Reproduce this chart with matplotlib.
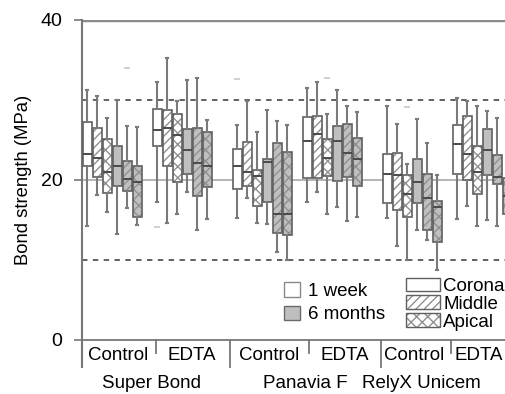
import matplotlib
matplotlib.use("Agg")
import matplotlib.pyplot as plt
from matplotlib.patches import Patch
from matplotlib.colors import to_rgba

plt.rcParams['font.family'] = ['Liberation Sans', 'DejaVu Sans']
plt.rcParams['hatch.linewidth'] = 1.0

materials = ["Super Bond", "Panavia F", "RelyX Unicem"]
treatments = ["Control", "EDTA"]
regions = ["Coronal", "Middle", "Apical"]
times = ["1 week", "6 months"]

# per group (material x treatment), 6 boxes: 1wk C/M/A, 6mo C/M/A
whisker_hi = [
    [31.2, 30.5, 27.7, 30.0, 26.75, 26.6],
    [32.2, 35.2, 29.9, 32.5, 32.8, 27.5],
    [26.9, 29.9, 26.0, 28.7, 27.4, 26.9],
    [31.5, 32.2, 28.2, 31.3, 29.2, 28.5],
    [29.3, 27.0, 22.0, 27.6, 24.6, 20.6],
    [30.3, 29.9, 29.3, 28.6, 27.8, 24.0],
]
q3 = [
    [27.3, 26.5, 25.1, 24.25, 22.4, 21.8],
    [28.9, 28.7, 28.25, 26.4, 26.5, 26.0],
    [23.9, 24.7, 21.3, 22.6, 24.6, 23.5],
    [27.9, 28.0, 25.1, 26.75, 27.0, 25.3],
    [23.2, 23.4, 20.6, 22.6, 20.7, 17.4],
    [26.9, 28.0, 24.2, 26.4, 23.1, 20.3],
]
median = [
    [23.3, 22.8, 21.0, 21.8, 20.1, 19.7],
    [26.25, 26.5, 25.6, 23.7, 22.1, 21.8],
    [21.75, 21.0, 20.5, 22.2, 15.75, 15.75],
    [24.9, 25.75, 22.8, 24.9, 23.4, 22.6],
    [20.7, 20.6, 18.2, 19.8, 17.8, 16.6],
    [24.5, 23.3, 21.0, 23.75, 20.4, 18.0],
]
q1 = [
    [21.8, 20.4, 18.4, 19.3, 18.6, 15.4],
    [24.2, 21.8, 19.8, 20.8, 18.0, 19.1],
    [18.9, 19.2, 16.7, 17.2, 13.4, 13.1],
    [20.3, 20.3, 20.5, 19.9, 20.4, 19.2],
    [17.1, 16.25, 15.4, 17.1, 13.8, 12.2],
    [20.7, 20.0, 18.3, 20.6, 19.5, 15.8],
]
whisker_lo = [
    [14.3, 18.1, 16.0, 13.25, 16.5, 14.4],
    [17.2, 14.6, 15.8, 18.5, 13.75, 15.1],
    [15.3, 17.8, 14.6, 14.5, 11.0, 10.0],
    [17.2, 18.5, 15.75, 16.6, 14.9, 15.4],
    [15.3, 11.7, 10.0, 13.75, 12.5, 8.8],
    [15.1, 16.7, 14.3, 15.0, 14.3, 13.0],
]
# outliers: (group, box) -> values
outliers = {(0, 4): [34.0], (1, 0): [14.1], (2, 0): [32.6], (3, 2): [32.8], (4, 2): [29.1]}

group_starts = [0, 7, 15, 22, 30, 37]

W, H = 505, 394
fig = plt.figure(figsize=(W / 100, H / 100), dpi=100)
ax = fig.add_axes([82 / W, (H - 340) / H, 423 / W, 320 / H])

fills = ["white", "#bfbfbf"]
hatches = [None, "////", "xxx"]
edge = "#606060"
hatch_col = "#909090"
wcol = "#7a7a7a"


def set_hatch_color(p, c):
    if hasattr(p, "set_hatchcolor"):
        p.set_hatchcolor(c)
    else:
        p._hatch_color = to_rgba(c)


stats, pos, facecols, hatchs = [], [], [], []
for g in range(6):
    for b in range(6):
        stats.append(dict(med=median[g][b], q1=q1[g][b], q3=q3[g][b],
                          whislo=whisker_lo[g][b], whishi=whisker_hi[g][b],
                          fliers=outliers.get((g, b), [])))
        pos.append(group_starts[g] + b)
        facecols.append(fills[b // 3])
        hatchs.append(hatches[b % 3])

bp = ax.bxp(stats, positions=pos, widths=0.9, patch_artist=True, showfliers=True,
            showcaps=True, capwidths=0.2,
            boxprops=dict(edgecolor=edge, linewidth=1.2),
            medianprops=dict(color="#4a4a4a", linewidth=1.4),
            whiskerprops=dict(color=wcol, linewidth=1.5),
            capprops=dict(color=wcol, linewidth=1.5),
            flierprops=dict(marker="_", markeredgecolor="#c8c8c8", markersize=5, markeredgewidth=1.2),
            zorder=3)
for patch, fc, h in zip(bp["boxes"], facecols, hatchs):
    patch.set_facecolor(fc)
    if h:
        patch.set_hatch(h)
        set_hatch_color(patch, hatch_col)

ax.axhline(20, color="#a8a8a8", lw=1.2, zorder=1)
for v in (10, 30):
    ax.axhline(v, color="#555555", lw=1.3, ls=(0, (3, 3)), zorder=1)
ax.axhline(40, color="#8c8c8c", lw=2.5, zorder=1)

ax.set_xlim(-0.5, 41.8)
ax.set_ylim(0, 40)
ax.set_yticks([0, 20, 40])
ax.tick_params(axis="y", direction="out", length=6, width=1.2, color="#777777",
               labelsize=14, pad=8)
ax.set_xticks([])
for s in ("top", "right"):
    ax.spines[s].set_visible(False)
ax.spines["bottom"].set_color("#777777")
ax.spines["bottom"].set_linewidth(1.3)
ax.spines["left"].set_color("#777777")
ax.spines["left"].set_linewidth(1.5)
ax.spines["left"].set_bounds(-3.4, 40)
ax.set_ylabel("Bond strength (MPa)", fontsize=13.3, labelpad=6)

xt = ax.get_xaxis_transform()
# separators under the axis
for x, long in [(6.9, False), (14.3, True), (22.2, False), (29.4, True), (36.4, False)]:
    ax.plot([x, x], [0, -0.085 if long else -0.042], transform=xt, color="#777777",
            lw=1.3, clip_on=False)
cat_x = [3.1, 10.5, 18.2, 25.8, 32.7, 39.2]
for i, x in enumerate(cat_x):
    ax.text(x, -0.047, treatments[i % 2], transform=xt, ha="center", va="center",
            fontsize=13.5, clip_on=False)
mat_x = [6.5, 21.8, 33.4]
for m, x in zip(materials, mat_x):
    ax.text(x, -0.135, m, transform=xt, ha="center", va="center", fontsize=13.5, clip_on=False)

h1 = [Patch(facecolor=fills[0], edgecolor="#8a8a8a", label=times[0]),
      Patch(facecolor=fills[1], edgecolor="#6a6a6a", label=times[1])]
leg1 = ax.legend(handles=h1, loc="upper left", bbox_to_anchor=(0.477, 0.18), frameon=False,
                 fontsize=13.5, handlelength=0.85, handleheight=0.8, handletextpad=0.45,
                 labelspacing=0.3, borderaxespad=0, borderpad=0)
ax.add_artist(leg1)
h2 = []
for i in range(3):
    p = Patch(facecolor="white", edgecolor=edge, hatch=hatches[i], label=regions[i])
    if hatches[i]:
        set_hatch_color(p, hatch_col)
    h2.append(p)
leg2 = ax.legend(handles=h2, loc="upper left", bbox_to_anchor=(0.765, 0.195), frameon=False,
                 fontsize=13.5, handlelength=1.85, handleheight=0.75, handletextpad=0.15,
                 labelspacing=0.02, borderaxespad=0, borderpad=0)
for p in leg2.get_patches():
    if p.get_hatch():
        set_hatch_color(p, hatch_col)

fig.savefig("out.png", dpi=100)
